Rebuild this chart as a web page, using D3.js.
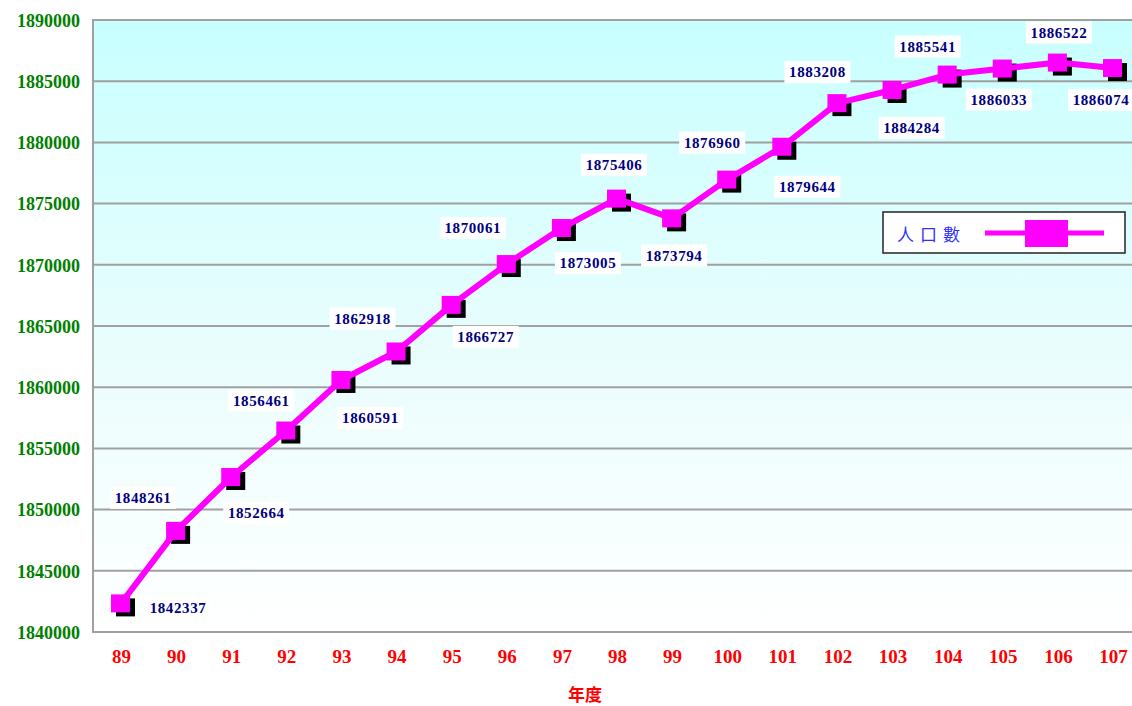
<!DOCTYPE html>
<html>
<head>
<meta charset="utf-8">
<script src="https://cdn.jsdelivr.net/npm/d3@7"></script>
<style>
  html, body { margin: 0; padding: 0; background: #fff; }
  svg { display: block; }
</style>
</head>
<body>
<svg id="chart" width="1132" height="706"></svg>
<script>
// ---- data ----
const years = ["89","90","91","92","93","94","95","96","97","98","99","100","101","102","103","104","105","106","107"];
const population = [1842337,1848261,1852664,1856461,1860591,1862918,1866727,1870061,1873005,1875406,1873794,1876960,1879644,1883208,1884284,1885541,1886033,1886522,1886074];
const yTicks = [1840000,1845000,1850000,1855000,1860000,1865000,1870000,1875000,1880000,1885000,1890000];
const seriesName = "人口數";
const axisTitle = "年度";

// ---- layout (label placement, not data) ----
const labelOffsets = [[57,4],[-33,-33],[25,36],[-25,-30],[29,38],[-34,-33],[34,32],[-34,-36],[26,35],[-3,-34],[2,37],[-15,-37],[25,40],[-20,-31],[19,38],[-20,-28],[-4,31],[1,-30],[-12,32]];

const svg = d3.select("#chart");
const plot = { left: 93, top: 20, right: 1140, bottom: 632 };

const x = d3.scalePoint().domain(years).range([121, 1113]);
const y = d3.scaleLinear().domain([1840000, 1890000]).range([plot.bottom, plot.top]);

const defs = svg.append("defs");
const grad = defs.append("linearGradient").attr("id","bg").attr("x1",0).attr("y1",0).attr("x2",0).attr("y2",1);
grad.append("stop").attr("offset","0%").attr("stop-color","#c8ffff");
grad.append("stop").attr("offset","55%").attr("stop-color","#eafdfd");
grad.append("stop").attr("offset","100%").attr("stop-color","#ffffff");

// plot background
svg.append("rect")
  .attr("x", plot.left).attr("y", plot.top)
  .attr("width", plot.right - plot.left).attr("height", plot.bottom - plot.top)
  .attr("fill", "url(#bg)")
  .attr("stroke", "#a0a0a0").attr("stroke-width", 2);

// gridlines
svg.append("g").selectAll("line").data(yTicks.slice(1, -1)).join("line")
  .attr("x1", plot.left).attr("x2", plot.right)
  .attr("y1", d => y(d)).attr("y2", d => y(d))
  .attr("stroke", "#a0a0a0").attr("stroke-width", 2);

// y axis labels
const yAxis = d3.axisLeft(y).tickValues(yTicks).tickSize(0).tickPadding(0).tickFormat(d3.format("d"));
const gy = svg.append("g").attr("transform", `translate(${80},0)`).call(yAxis);
gy.select(".domain").remove();
gy.selectAll("text")
  .attr("fill", "#008000")
  .style("font-family", "'Liberation Serif', 'DejaVu Serif', serif")
  .style("font-weight", "bold")
  .style("font-size", "18px")
  .attr("dy", "0.35em");

// x axis labels
const xAxis = d3.axisBottom(x).tickSize(0).tickPadding(0);
const gx = svg.append("g").attr("transform", `translate(0,${656})`).call(xAxis);
gx.select(".domain").remove();
gx.selectAll("text")
  .attr("fill", "#ff0000")
  .attr("dy", "0.35em")
  .style("font-family", "'Liberation Serif', 'DejaVu Serif', serif")
  .style("font-weight", "bold")
  .style("font-size", "19px");

// axis title
svg.append("text")
  .attr("x", 585).attr("y", 693)
  .attr("text-anchor", "middle").attr("dominant-baseline", "central")
  .attr("fill", "#ff0000")
  .style("font-family", "'Noto Sans CJK TC', sans-serif")
  .style("font-weight", "bold")
  .style("font-size", "17px")
  .text(axisTitle);

const pts = years.map((yr, i) => ({ yr, v: population[i], i }));

// marker shadows
svg.append("g").selectAll("rect").data(pts).join("rect")
  .attr("x", d => x(d.yr) - 9 + 4).attr("y", d => y(d.v) - 9 + 4)
  .attr("width", 19).attr("height", 18)
  .attr("fill", "#000");

// line
svg.append("path")
  .datum(pts)
  .attr("fill", "none")
  .attr("stroke", "#ff00ff")
  .attr("stroke-width", 6)
  .attr("stroke-linejoin", "round")
  .attr("d", d3.line().x(d => x(d.yr)).y(d => y(d.v)));

// markers
svg.append("g").selectAll("rect").data(pts).join("rect")
  .attr("x", d => x(d.yr) - 10).attr("y", d => y(d.v) - 9)
  .attr("width", 19).attr("height", 18)
  .attr("fill", "#ff00ff");

// data labels
const lg = svg.append("g").selectAll("g").data(pts).join("g")
  .attr("transform", d => `translate(${x(d.yr) + labelOffsets[d.i][0]},${y(d.v) + labelOffsets[d.i][1]})`);
lg.append("rect")
  .attr("x", -33).attr("y", -11).attr("width", 66).attr("height", 22)
  .attr("fill", "#ffffff");
lg.append("text")
  .attr("text-anchor", "middle").attr("dy", "0.35em")
  .attr("fill", "#000080")
  .style("font-family", "'Liberation Serif', 'DejaVu Serif', serif")
  .style("font-weight", "bold")
  .style("font-size", "15px")
  .style("letter-spacing", "0.6px")
  .text(d => d.v);

// legend
const leg = svg.append("g");
leg.append("rect")
  .attr("x", 883).attr("y", 212).attr("width", 242).attr("height", 41)
  .attr("fill", "#fff").attr("stroke", "#222").attr("stroke-width", 1.5);
leg.append("text")
  .attr("x", 897).attr("y", 233).attr("dominant-baseline", "central")
  .attr("fill", "#3030ff")
  .style("font-family", "'Noto Sans CJK TC', sans-serif")
  .style("font-size", "17px")
  .style("letter-spacing", "6px")
  .text(seriesName);
leg.append("line")
  .attr("x1", 985).attr("x2", 1104).attr("y1", 233).attr("y2", 233)
  .attr("stroke", "#ff00ff").attr("stroke-width", 5);
leg.append("rect")
  .attr("x", 1025).attr("y", 220).attr("width", 43).attr("height", 27)
  .attr("fill", "#ff00ff");
</script>
</body>
</html>
